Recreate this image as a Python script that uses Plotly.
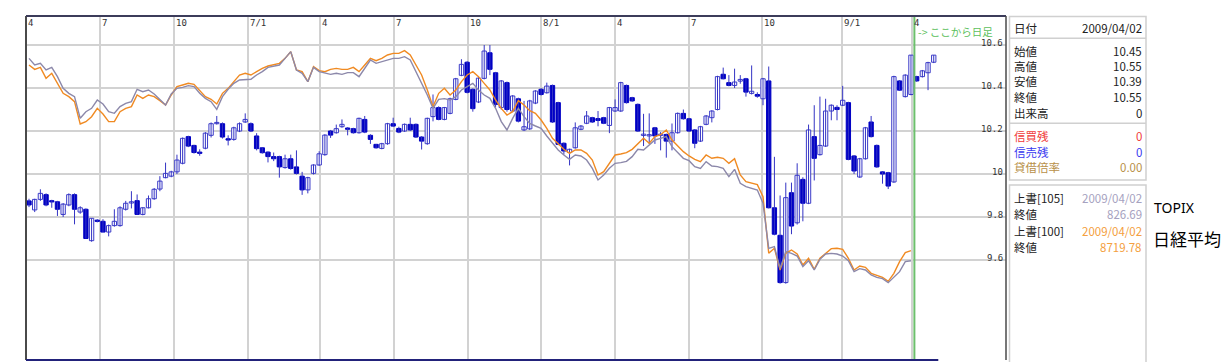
import plotly.graph_objects as go

# ---------------- data ----------------
# weekly candles 2006/04 .. 2009/03, then daily candles (after the green line)
open_ = [9.875, 9.833, 9.882, 9.904, 9.874, 9.871, 9.812, 9.856, 9.904, 9.823,
         9.836, 9.690, 9.785, 9.780, 9.730, 9.760, 9.760, 9.836, 9.866, 9.876,
         9.812, 9.843, 9.885, 9.930, 9.983, 9.990, 10.010, 10.050, 10.174, 10.133,
         10.100, 10.120, 10.180, 10.234, 10.234, 10.162, 10.161, 10.200, 10.242, 10.234,
         10.177, 10.122, 10.102, 10.081, 10.081, 10.030, 10.071, 10.033, 9.990, 9.926,
         10.003, 10.042, 10.090, 10.200, 10.192, 10.220, 10.212, 10.211, 10.192, 10.254,
         10.180, 10.138, 10.119, 10.141, 10.234, 10.212, 10.200, 10.231, 10.231, 10.172,
         10.141, 10.267, 10.309, 10.254, 10.282, 10.347, 10.459, 10.520, 10.394, 10.335,
         10.445, 10.564, 10.471, 10.309, 10.425, 10.293, 10.350, 10.205, 10.210, 10.330,
         10.394, 10.378, 10.412, 10.332, 10.143, 10.100, 10.122, 10.208, 10.236, 10.262,
         10.258, 10.262, 10.226, 10.293, 10.293, 10.412, 10.355, 10.324, 10.180, 10.178,
         10.215, 10.180, 10.184, 10.153, 10.192, 10.282, 10.257, 10.205, 10.153, 10.231,
         10.262, 10.300, 10.464, 10.425, 10.412, 10.432, 10.443, 10.375, 10.370, 10.350,
         10.433, 9.843, 9.715, 9.495, 9.913, 9.773, 9.975, 9.864, 10.174, 10.090,
         10.130, 10.293, 10.310, 10.320, 10.332, 10.084, 9.986, 10.071, 10.242, 10.133,
         10.010, 10.006, 9.963, 10.433, 10.360, 10.370, 10.453, 10.453, 10.471, 10.520]
high = [9.885, 9.885, 9.929, 9.910, 9.880, 9.875, 9.865, 9.910, 9.910, 9.850,
        9.840, 9.794, 9.790, 9.790, 9.765, 9.836, 9.850, 9.875, 9.920, 9.905,
        9.845, 9.900, 9.935, 9.990, 10.053, 10.015, 10.090, 10.170, 10.178, 10.136,
        10.115, 10.195, 10.240, 10.270, 10.240, 10.180, 10.220, 10.240, 10.282, 10.240,
        10.190, 10.125, 10.105, 10.100, 10.085, 10.090, 10.090, 10.110, 10.010, 9.987,
        10.045, 10.106, 10.185, 10.205, 10.230, 10.254, 10.218, 10.215, 10.262, 10.270,
        10.185, 10.140, 10.145, 10.238, 10.262, 10.220, 10.235, 10.262, 10.235, 10.176,
        10.262, 10.370, 10.315, 10.312, 10.355, 10.447, 10.534, 10.525, 10.398, 10.450,
        10.600, 10.600, 10.475, 10.437, 10.430, 10.367, 10.355, 10.340, 10.345, 10.390,
        10.400, 10.425, 10.416, 10.336, 10.147, 10.118, 10.240, 10.228, 10.293, 10.266,
        10.293, 10.266, 10.312, 10.347, 10.429, 10.416, 10.359, 10.328, 10.280, 10.282,
        10.219, 10.195, 10.188, 10.235, 10.286, 10.300, 10.261, 10.209, 10.224, 10.274,
        10.297, 10.457, 10.495, 10.460, 10.490, 10.460, 10.447, 10.505, 10.380, 10.447,
        10.500, 10.080, 9.900, 9.960, 9.960, 10.050, 9.985, 10.230, 10.320, 10.360,
        10.350, 10.324, 10.320, 10.410, 10.336, 10.088, 10.075, 10.219, 10.270, 10.137,
        10.014, 10.010, 10.457, 10.437, 10.464, 10.553, 10.457, 10.484, 10.522, 10.553]
low = [9.846, 9.823, 9.875, 9.850, 9.843, 9.805, 9.800, 9.850, 9.766, 9.815,
       9.700, 9.685, 9.775, 9.730, 9.710, 9.755, 9.755, 9.830, 9.840, 9.812,
       9.808, 9.840, 9.880, 9.920, 9.980, 9.985, 10.000, 10.045, 10.125, 10.095,
       10.085, 10.115, 10.170, 10.230, 10.165, 10.133, 10.155, 10.195, 10.238, 10.195,
       10.110, 10.095, 10.054, 10.060, 9.983, 10.025, 10.020, 9.998, 9.903, 9.910,
       9.998, 10.038, 10.085, 10.168, 10.188, 10.215, 10.180, 10.188, 10.188, 10.190,
       10.140, 10.118, 10.115, 10.136, 10.220, 10.190, 10.196, 10.200, 10.168, 10.114,
       10.136, 10.245, 10.250, 10.250, 10.278, 10.343, 10.455, 10.375, 10.290, 10.330,
       10.440, 10.460, 10.310, 10.300, 10.290, 10.288, 10.240, 10.200, 10.205, 10.325,
       10.365, 10.374, 10.238, 10.134, 10.090, 10.040, 10.118, 10.204, 10.232, 10.238,
       10.222, 10.232, 10.190, 10.289, 10.289, 10.328, 10.336, 10.196, 10.130, 10.140,
       10.140, 10.110, 10.076, 10.110, 10.188, 10.253, 10.196, 10.120, 10.149, 10.227,
       10.240, 10.296, 10.440, 10.408, 10.400, 10.420, 10.360, 10.370, 10.355, 10.320,
       9.840, 9.715, 9.490, 9.490, 9.720, 9.765, 9.780, 9.860, 9.970, 10.086,
       10.126, 10.250, 10.250, 10.316, 10.064, 10.000, 9.982, 10.067, 10.170, 10.029,
       9.955, 9.930, 9.959, 10.386, 10.356, 10.366, 10.429, 10.449, 10.390, 10.516]
close = [9.856, 9.882, 9.910, 9.856, 9.872, 9.836, 9.860, 9.904, 9.836, 9.843,
         9.700, 9.794, 9.780, 9.730, 9.760, 9.780, 9.843, 9.864, 9.870, 9.812,
         9.843, 9.885, 9.929, 9.967, 10.003, 10.010, 10.065, 10.166, 10.130, 10.100,
         10.098, 10.190, 10.234, 10.240, 10.172, 10.160, 10.215, 10.234, 10.254, 10.200,
         10.118, 10.099, 10.081, 10.071, 10.033, 10.071, 10.026, 10.003, 9.926, 9.983,
         10.042, 10.094, 10.181, 10.181, 10.211, 10.231, 10.210, 10.192, 10.259, 10.195,
         10.161, 10.122, 10.141, 10.234, 10.223, 10.195, 10.231, 10.205, 10.172, 10.153,
         10.259, 10.309, 10.254, 10.309, 10.350, 10.443, 10.510, 10.380, 10.304, 10.446,
         10.572, 10.487, 10.324, 10.433, 10.300, 10.363, 10.246, 10.220, 10.340, 10.386,
         10.370, 10.409, 10.242, 10.138, 10.107, 10.115, 10.215, 10.223, 10.270, 10.242,
         10.249, 10.236, 10.309, 10.309, 10.425, 10.332, 10.340, 10.200, 10.185, 10.182,
         10.177, 10.185, 10.153, 10.192, 10.282, 10.257, 10.200, 10.143, 10.220, 10.270,
         10.293, 10.453, 10.443, 10.412, 10.428, 10.440, 10.381, 10.385, 10.362, 10.443,
         9.843, 9.720, 9.495, 9.890, 9.758, 9.994, 9.864, 10.205, 10.073, 10.133,
         10.293, 10.320, 10.300, 10.343, 10.068, 10.014, 10.071, 10.215, 10.174, 10.033,
         10.000, 9.944, 10.453, 10.390, 10.460, 10.553, 10.433, 10.480, 10.518, 10.553]

# overlay lines (weekly closes, up to the green line)
nikkei = [17373, 17171, 17265, 16752, 16985, 16519, 16053, 15898, 15665, 14624,
          14733, 14966, 15354, 15090, 14733, 14733, 15199, 15354, 15432, 15976,
          15820, 15976, 15898, 15712, 15510, 15976, 16364, 16441, 16519, 16473,
          16208, 15898, 15774, 15556, 16053, 16286, 16597, 16907, 16985, 16907,
          17063, 17218, 17327, 17373, 17451, 17684, 17994, 17140, 17063, 16597,
          17296, 17109, 17063, 17171, 17218, 17171, 17171, 17265, 17063, 17373,
          17684, 17575, 17684, 17839, 17917, 17917, 18041, 17839, 17373, 16907,
          16208, 15432, 16053, 16286, 15976, 16208, 16597, 16907, 17063, 16830,
          16519, 16208, 15743, 15354, 15044, 15199, 15712, 15510, 15246, 15121,
          14811, 14423, 13957, 13693, 13444, 13258, 13413, 13413, 13258, 12947,
          12248, 12404, 12792, 13180, 13227, 13289, 13444, 13693, 13957, 13724,
          14034, 14127, 14345, 13879, 13599, 13335, 13134, 12978, 12870, 13180,
          13025, 13071, 13025, 12792, 13009, 12248, 11938, 11860, 11798, 11239,
          8599, 8832, 7822, 8599, 8754, 8568, 8055, 8366, 7853, 8366,
          8599, 8816, 8832, 8785, 8366, 7822, 8009, 7947, 7667, 7574,
          7481, 7294, 7667, 8211, 8630, 8719.78]
topix = [1768.9, 1737.9, 1745.7, 1714.6, 1727.0, 1683.6, 1629.3, 1606.0, 1590.5, 1489.6,
         1520.6, 1536.1, 1574.9, 1556.3, 1520.6, 1512.9, 1543.9, 1559.4, 1567.2, 1624.6,
         1613.7, 1621.5, 1602.9, 1578.0, 1551.7, 1602.9, 1629.3, 1633.9, 1641.7, 1637.0,
         1606.0, 1582.7, 1567.2, 1531.5, 1590.5, 1624.6, 1652.5, 1668.1, 1668.1, 1671.2,
         1691.3, 1706.9, 1727.0, 1733.2, 1737.9, 1768.9, 1800.0, 1714.6, 1699.1, 1660.3,
         1727.0, 1706.9, 1699.1, 1694.4, 1699.1, 1694.4, 1702.2, 1702.2, 1683.6, 1722.4,
         1761.2, 1745.7, 1753.4, 1764.3, 1768.9, 1768.9, 1776.7, 1761.2, 1706.9, 1660.3,
         1598.2, 1536.1, 1578.0, 1581.1, 1574.9, 1590.5, 1621.5, 1637.0, 1652.5, 1621.5,
         1598.2, 1582.7, 1536.1, 1474.1, 1435.3, 1489.6, 1536.1, 1497.3, 1466.3, 1453.9,
         1443.0, 1407.3, 1373.2, 1342.1, 1318.9, 1298.7, 1318.9, 1314.2, 1295.6, 1256.8,
         1202.5, 1225.7, 1256.8, 1280.1, 1283.2, 1289.4, 1311.1, 1345.2, 1342.1, 1365.4,
         1388.7, 1396.5, 1404.2, 1357.7, 1329.7, 1303.3, 1292.5, 1264.5, 1256.8, 1287.8,
         1267.6, 1264.5, 1256.8, 1218.0, 1252.1, 1186.9, 1171.4, 1163.7, 1155.9, 1093.8,
         884.3, 892.1, 791.2, 868.8, 861.0, 848.6, 798.9, 826.9, 783.4, 833.1,
         857.9, 861.0, 857.9, 848.6, 826.9, 775.7, 789.6, 783.4, 760.1, 749.3,
         743.1, 724.4, 749.3, 775.7, 822.2, 826.69]

x_tick_pos = [-0.5, 12.4, 25.4, 38.4, 51.2, 64.1, 77.1, 90.0, 103.0, 116.0, 128.9, 142.9, 155.1]
x_tick_text = ["4", "7", "10", "7/1", "4", "7", "10", "8/1", "4", "7", "10", "9/1", "4"]
y_tick_vals = [9.6, 9.8, 10.0, 10.2, 10.4, 10.6]
y_tick_text = ["9.6", "9.8", "10", "10.2", "10.4", "10.6"]
daily_start = 155.6

panel_labels = ["日付", "始値", "高値", "安値", "終値", "出来高", "信買残", "信売残", "貸借倍率"]
panel_values = ["2009/04/02", "10.45", "10.55", "10.39", "10.55", "0", "0", "0", "0.00"]
overlay_labels = ["上書[105]", "終値", "上書[100]", "終値"]
overlay_values = ["2009/04/02", "826.69", "2009/04/02", "8719.78"]

# ---------------- layout helpers ----------------
W, H = 1232, 362
ML, MR, MT, MB = 26, 226, 16, 2
PW, PH = W - ML - MR, H - MT - MB


def xp(px):
    return (px - ML) / PW


def yp(py):
    return (H - MB - py) / PH


idx = list(range(len(open_)))

UP_EDGE = "#3a3ac8"
DOWN = "#0000c4"
MIN_BODY = 0.006

# wicks (drawn first, bodies on top)
wx, wy = [], []
for i, h, l in zip(idx, high, low):
    wx += [i, i, None]
    wy += [l, h, None]

bases, heights, fills, edges = [], [], [], []
for o, c in zip(open_, close):
    lo_, hi_ = min(o, c), max(o, c)
    hgt = max(hi_ - lo_, MIN_BODY)
    bases.append((lo_ + hi_) / 2 - hgt / 2)
    heights.append(hgt)
    up = c >= o
    fills.append("white" if up else DOWN)
    edges.append(UP_EDGE if up else DOWN)

fig = go.Figure()
fig.add_trace(go.Scatter(x=wx, y=wy, mode="lines", line=dict(color="#3434c4", width=1),
                         showlegend=False, hoverinfo="skip"))
fig.add_trace(go.Bar(x=idx, y=heights, base=bases, width=0.76,
                     marker=dict(color=fills, line=dict(color=edges, width=1)),
                     showlegend=False, hoverinfo="skip"))
fig.add_trace(go.Scatter(x=idx[:len(topix)], y=topix, yaxis="y3", mode="lines",
                         line=dict(color="#8c88aa", width=1.4), showlegend=False, hoverinfo="skip"))
fig.add_trace(go.Scatter(x=idx[:len(nikkei)], y=nikkei, yaxis="y2", mode="lines",
                         line=dict(color="#f08a22", width=1.4), showlegend=False, hoverinfo="skip"))

grid = "#d2d2d2"
fig.update_layout(
    width=W, height=H, margin=dict(l=ML, r=MR, t=MT, b=MB),
    paper_bgcolor="white", plot_bgcolor="white", barmode="overlay",
    xaxis=dict(range=[-0.527, 171.70], tickvals=x_tick_pos, showticklabels=False, ticks="",
               showgrid=True, gridcolor=grid, gridwidth=1.5, zeroline=False, fixedrange=True),
    yaxis=dict(range=[9.1349, 10.735], tickvals=y_tick_vals, showticklabels=False, ticks="",
               showgrid=True, gridcolor=grid, gridwidth=1.5, zeroline=False),
    yaxis2=dict(overlaying="y", range=[3626, 19657], visible=False),
    yaxis3=dict(overlaying="y", range=[364.4, 1966], visible=False),
)

shapes = []
# green "daily from here" line
shapes.append(dict(type="line", xref="x", yref="paper", x0=daily_start, x1=daily_start, y0=0, y1=1,
                   line=dict(color="#6cbf6c", width=2)))
# frame
shapes.append(dict(type="line", xref="paper", yref="paper", x0=0, x1=0, y0=0, y1=1,
                   line=dict(color="#4a4a4a", width=2)))
shapes.append(dict(type="line", xref="paper", yref="paper", x0=0, x1=1, y0=1, y1=1,
                   line=dict(color="#3c3c5a", width=2)))
shapes.append(dict(type="line", xref="paper", yref="paper", x0=1, x1=1, y0=0, y1=1,
                   line=dict(color="#4a4a4a", width=1.5)))
shapes.append(dict(type="line", xref="x", yref="paper", x0=-0.527, x1=len(idx) - 0.2, y0=0, y1=0,
                   line=dict(color="#22227a", width=2)))
# side panels
pc = "#d0d0d0"
shapes.append(dict(type="rect", xref="paper", yref="paper", x0=xp(1009.5), x1=xp(1146),
                   y0=yp(180), y1=yp(16.5), line=dict(color=pc, width=1.5)))
for sy in (38.3, 123.3):
    shapes.append(dict(type="line", xref="paper", yref="paper", x0=xp(1009.5), x1=xp(1146),
                       y0=yp(sy), y1=yp(sy), line=dict(color=pc, width=1.5)))
shapes.append(dict(type="rect", xref="paper", yref="paper", x0=xp(1009.5), x1=xp(1146),
                   y0=yp(364), y1=yp(185), line=dict(color=pc, width=1.5)))

ann = []
tick_font = dict(family="DejaVu Sans Mono", size=9, color="#333333")
for v, t in zip(y_tick_vals, y_tick_text):
    ann.append(dict(x=xp(1004.5), xref="paper", y=v, yref="y", text=t, showarrow=False,
                    xanchor="right", yanchor="middle", yshift=2, font=tick_font))
for v, t in zip(x_tick_pos, x_tick_text):
    ann.append(dict(x=v, xref="x", y=yp(23), yref="paper", text=t, showarrow=False,
                    xanchor="left", yanchor="middle", xshift=0, font=tick_font))

ann.append(dict(x=xp(916), xref="paper", y=yp(31.5), yref="paper", text="-> ここから日足",
                showarrow=False, xanchor="left", yanchor="middle",
                font=dict(family="Noto Sans CJK JP", size=10.5, color="#5cbf5c")))

jp = "Noto Sans CJK JP"
row_y = [28, 50.7, 66, 81.3, 97.3, 113.3, 135.7, 151.7, 166.7]
row_col = ["#222222"] * 6 + ["#f03a3a", "#3a3af0", "#b89048"]
for lab, val, yy, c in zip(panel_labels, panel_values, row_y, row_col):
    ann.append(dict(x=xp(1012), xref="paper", y=yp(yy), yref="paper", text=lab, showarrow=False,
                    xanchor="left", yanchor="middle", font=dict(family=jp, size=11.5, color=c)))
    ann.append(dict(x=xp(1144), xref="paper", y=yp(yy), yref="paper", text=val, showarrow=False,
                    xanchor="right", yanchor="middle", font=dict(family=jp, size=11.5, color=c)))

ov_y = [198.3, 214.3, 231, 247.3]
ov_col = ["#a6a2c0", "#a6a2c0", "#f4a040", "#f4a040"]
for lab, val, yy, c in zip(overlay_labels, overlay_values, ov_y, ov_col):
    ann.append(dict(x=xp(1012), xref="paper", y=yp(yy), yref="paper", text=lab, showarrow=False,
                    xanchor="left", yanchor="middle", font=dict(family=jp, size=11.5, color="#222222")))
    ann.append(dict(x=xp(1144), xref="paper", y=yp(yy), yref="paper", text=val, showarrow=False,
                    xanchor="right", yanchor="middle", font=dict(family=jp, size=11.5, color=c)))

ann.append(dict(x=xp(1152), xref="paper", y=yp(207), yref="paper", text="TOPIX", showarrow=False,
                xanchor="left", yanchor="middle", font=dict(family="Noto Sans", size=14, color="#000000")))
ann.append(dict(x=xp(1151), xref="paper", y=yp(238), yref="paper", text="日経平均", showarrow=False,
                xanchor="left", yanchor="middle", font=dict(family=jp, size=17, color="#000000")))

fig.update_layout(shapes=shapes, annotations=ann)
fig.write_html("out.html")
